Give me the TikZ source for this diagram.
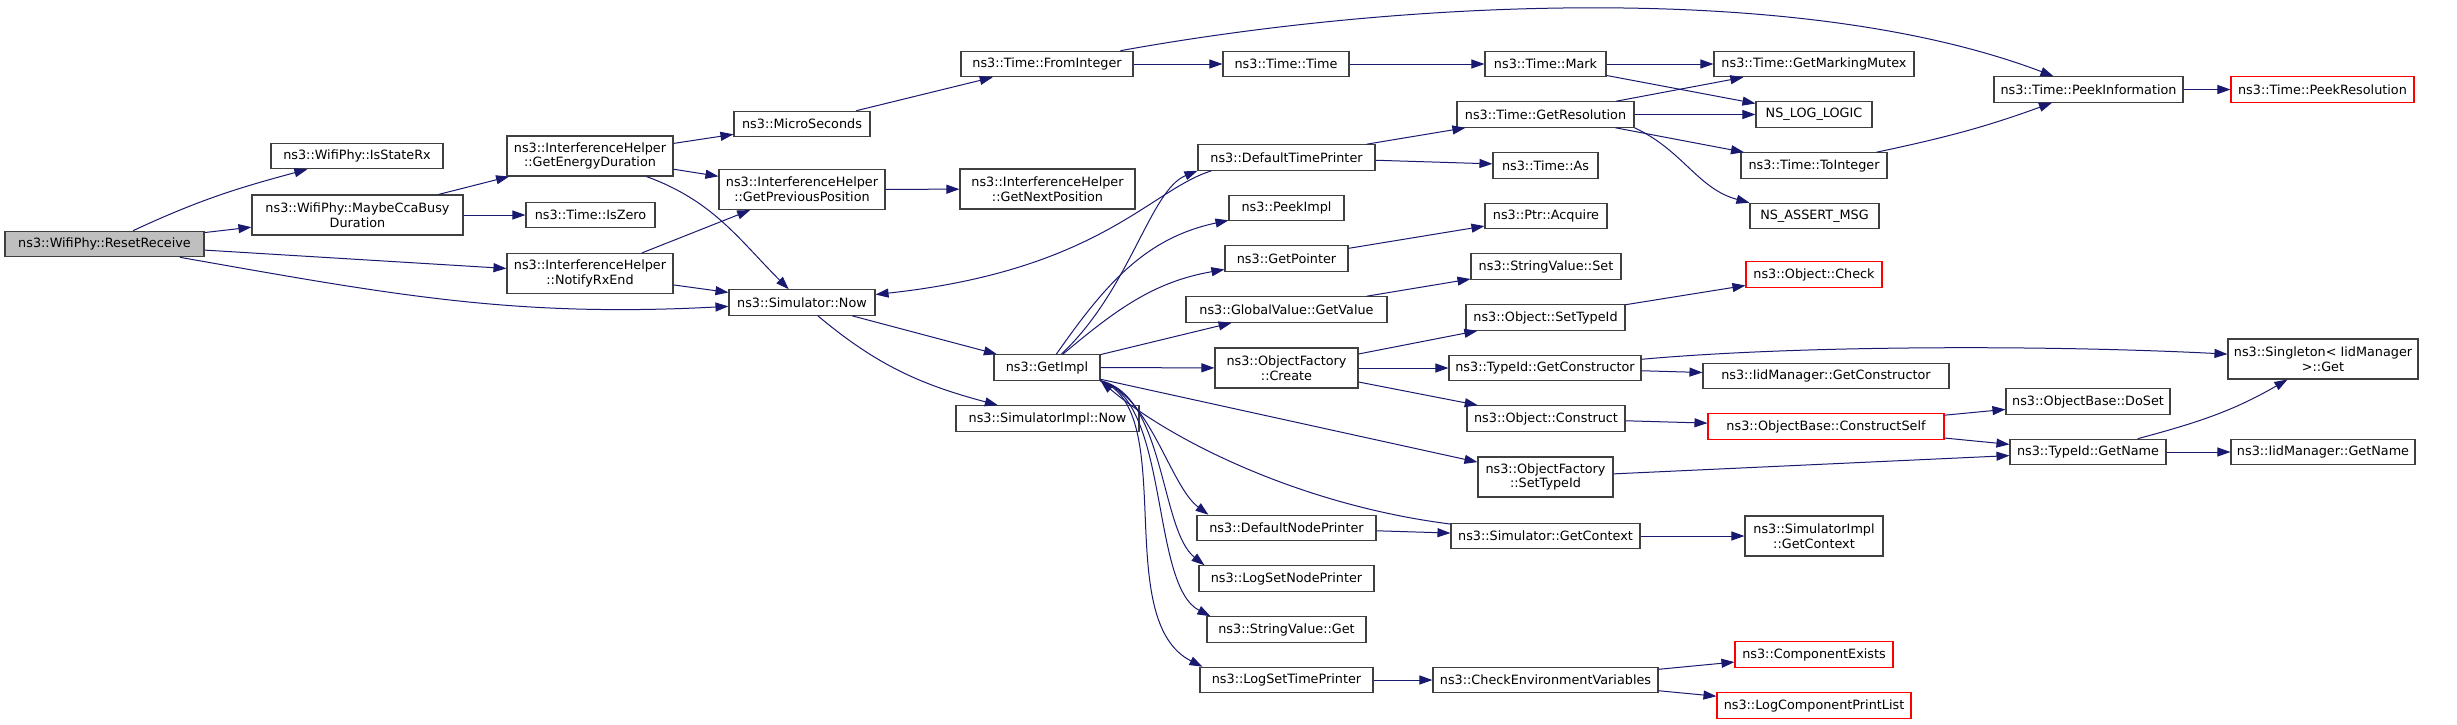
\documentclass[tikz,border=0pt]{standalone}
\usepackage{fontspec}
\setmainfont{DejaVu Sans}
\usetikzlibrary{arrows.meta}
\definecolor{edgeblue}{RGB}{25,25,112}
\definecolor{boxgrey}{RGB}{64,64,64}
\definecolor{rootfill}{RGB}{191,191,191}
\begin{document}
\begin{tikzpicture}[x=1pt, y=1pt,
	fn/.style = {draw=boxgrey, line width=1.1pt, fill=white, minimum height=25.5, inner sep=2pt, align=center, font=\fontsize{12.8}{14.7}\selectfont},
	two/.style = {minimum height=40},
	root/.style = {fill=rootfill},
	trunc/.style = {draw=red},
	call/.style = {draw=edgeblue, line width=1pt, -{Triangle[length=13pt, width=9pt]}}]
	\fill[white] (0,0) rectangle (2457,-724);
	\useasboundingbox (0,0) rectangle (2457,-724);

	\node[fn, root, minimum width=199] (reset) at (104.5,-244) {ns3::WifiPhy::ResetReceive};
	\node[fn, minimum width=172] (isstaterx) at (357,-156) {ns3::WifiPhy::IsStateRx};
	\node[fn, two, minimum width=211] (maybecca) at (357.5,-215) {ns3::WifiPhy::MaybeCcaBusy\\Duration};
	\node[fn, two, minimum width=166] (energy) at (590,-156) {ns3::InterferenceHelper\\::GetEnergyDuration};
	\node[fn, minimum width=129] (iszero) at (590.5,-215) {ns3::Time::IsZero};
	\node[fn, two, minimum width=166] (notify) at (590,-273.5) {ns3::InterferenceHelper\\::NotifyRxEnd};
	\node[fn, minimum width=136] (micro) at (802,-124) {ns3::MicroSeconds};
	\node[fn, two, minimum width=166] (prevpos) at (802,-189.5) {ns3::InterferenceHelper\\::GetPreviousPosition};
	\node[fn, minimum width=146] (simnow) at (802,-302.5) {ns3::Simulator::Now};
	\node[fn, two, minimum width=175] (nextpos) at (1047.5,-189) {ns3::InterferenceHelper\\::GetNextPosition};
	\node[fn, minimum width=172] (fromint) at (1047,-64) {ns3::Time::FromInteger};
	\node[fn, minimum width=106] (getimpl) at (1047,-367.5) {ns3::GetImpl};
	\node[fn, minimum width=183] (implnow) at (1047.5,-418.5) {ns3::SimulatorImpl::Now};

	\node[fn, minimum width=126] (timetime) at (1286,-64) {ns3::Time::Time};
	\node[fn, minimum width=177] (deftime) at (1286.5,-157.5) {ns3::DefaultTimePrinter};
	\node[fn, minimum width=115] (peekimpl) at (1286.5,-208) {ns3::PeekImpl};
	\node[fn, minimum width=123] (getpointer) at (1286.5,-258.5) {ns3::GetPointer};
	\node[fn, minimum width=201] (getvalue) at (1286.5,-309.5) {ns3::GlobalValue::GetValue};
	\node[fn, two, minimum width=143] (create) at (1286.5,-368) {ns3::ObjectFactory\\::Create};
	\node[fn, minimum width=179] (defnode) at (1286.5,-528) {ns3::DefaultNodePrinter};
	\node[fn, minimum width=175] (lognode) at (1286.5,-578.5) {ns3::LogSetNodePrinter};
	\node[fn, minimum width=159] (strget) at (1286.5,-629.5) {ns3::StringValue::Get};
	\node[fn, minimum width=173] (logtime) at (1286.5,-680) {ns3::LogSetTimePrinter};

	\node[fn, minimum width=121] (mark) at (1545.5,-64) {ns3::Time::Mark};
	\node[fn, minimum width=177] (getres) at (1545.5,-114.5) {ns3::Time::GetResolution};
	\node[fn, minimum width=105] (timeas) at (1545.5,-165.5) {ns3::Time::As};
	\node[fn, minimum width=122] (acquire) at (1546,-216) {ns3::Ptr::Acquire};
	\node[fn, minimum width=150] (strset) at (1546,-266.5) {ns3::StringValue::Set};
	\node[fn, minimum width=159] (objsettype) at (1545.5,-317.5) {ns3::Object::SetTypeId};
	\node[fn, minimum width=192] (getctor) at (1545,-368) {ns3::TypeId::GetConstructor};
	\node[fn, minimum width=158] (construct) at (1546,-418.5) {ns3::Object::Construct};
	\node[fn, two, minimum width=135] (ofsettype) at (1545.5,-477) {ns3::ObjectFactory\\::SetTypeId};
	\node[fn, minimum width=189] (getctx) at (1545.5,-536) {ns3::Simulator::GetContext};
	\node[fn, minimum width=225] (checkenv) at (1545.5,-680) {ns3::CheckEnvironmentVariables};

	\node[fn, minimum width=200] (mutex) at (1814,-64) {ns3::Time::GetMarkingMutex};
	\node[fn, minimum width=116] (loglogic) at (1814,-114.5) {NS\_LOG\_LOGIC};
	\node[fn, minimum width=146] (tointeger) at (1814,-165.5) {ns3::Time::ToInteger};
	\node[fn, minimum width=129] (assertmsg) at (1814.5,-216) {NS\_ASSERT\_MSG};
	\node[fn, trunc, minimum width=136] (check) at (1814,-274.5) {ns3::Object::Check};
	\node[fn, minimum width=246] (iidctor) at (1826,-376) {ns3::IidManager::GetConstructor};
	\node[fn, trunc, minimum width=236] (cself) at (1826,-426.5) {ns3::ObjectBase::ConstructSelf};
	\node[fn, two, minimum width=138] (implctx) at (1814,-536) {ns3::SimulatorImpl\\::GetContext};
	\node[fn, trunc, minimum width=158] (compexists) at (1814,-654.5) {ns3::ComponentExists};
	\node[fn, trunc, minimum width=194] (printlist) at (1814,-705.5) {ns3::LogComponentPrintList};

	\node[fn, minimum width=189] (peekinfo) at (2088.5,-89.5) {ns3::Time::PeekInformation};
	\node[fn, minimum width=164] (doset) at (2088,-401.5) {ns3::ObjectBase::DoSet};
	\node[fn, minimum width=156] (getname) at (2088,-452) {ns3::TypeId::GetName};
	\node[fn, trunc, minimum width=183] (peekres) at (2322.5,-89.5) {ns3::Time::PeekResolution};
	\node[fn, two, minimum width=190] (singleton) at (2323,-359) {ns3::Singleton< IidManager\\>::Get};
	\node[fn, minimum width=184] (iidname) at (2323,-452) {ns3::IidManager::GetName};

	\draw[call] (reset) to[out=25,in=195] (isstaterx);
	\draw[call] (reset) -- (maybecca);
	\draw[call] (reset) -- (notify);
	\draw[call] (reset) to[out=-10,in=183] (simnow);
	\draw[call] (maybecca) -- (energy);
	\draw[call] (maybecca) -- (iszero);
	\draw[call] (energy) -- (micro);
	\draw[call] (energy) -- (prevpos);
	\draw[call] (energy) to[out=-20,in=135] (simnow);
	\draw[call] (notify) -- (prevpos);
	\draw[call] (notify) -- (simnow);
	\draw[call] (prevpos) -- (nextpos);
	\draw[call] (micro) -- (fromint);
	\draw[call] (fromint) -- (timetime);
	\draw[call] (fromint) .. controls (1400,0) and (1800,20) .. (peekinfo);
	\draw[call] (timetime) -- (mark);
	\draw[call] (mark) -- (mutex);
	\draw[call] (mark) -- (loglogic);
	\draw[call] (getres) -- (mutex);
	\draw[call] (getres) -- (loglogic);
	\draw[call] (getres) -- (tointeger);
	\draw[call] (getres.south east) to[out=-25,in=165] (assertmsg.north west);
	\draw[call] (deftime) -- (getres);
	\draw[call] (deftime) -- (timeas);
	\draw[call] (tointeger) to[out=12,in=200] (peekinfo);
	\draw[call] (peekinfo) -- (peekres);
	\draw[call] (simnow) -- (getimpl);
	\draw[call] (simnow) to[out=-40,in=165] (implnow);
	\draw[call] ([xshift=14pt]deftime.south west) .. controls (1150,-190) and (1100,-270) .. (simnow);
	\draw[call] (getimpl) .. controls (1130,-290) and (1150,-190) .. (deftime.south west);
	\draw[call] (getimpl) to[out=55,in=192] (peekimpl);
	\draw[call] (getimpl) to[out=40,in=190] (getpointer);
	\draw[call] (getimpl) -- (getvalue);
	\draw[call] (getimpl) -- (create);
	\draw[call] (getimpl) -- (ofsettype);
	\draw[call] (getimpl.south east) .. controls (1150,-395) and (1170,-486) .. ([xshift=12pt]defnode.north west);
	\draw[call] (getimpl.south east) .. controls (1165,-395) and (1160,-530) .. ([xshift=6pt]lognode.north west);
	\draw[call] (getimpl.south east) .. controls (1170,-400) and (1150,-585) .. ([xshift=4pt]strget.north west);
	\draw[call] (getimpl.south east) .. controls (1180,-410) and (1110,-620) .. ([xshift=3pt]logtime.north west);
	\draw[call] (getctx) .. controls (1300,-505) and (1170,-440) .. (getimpl.south east);
	\draw[call] (getpointer) -- (acquire);
	\draw[call] (getvalue) -- (strset);
	\draw[call] (create) -- (objsettype);
	\draw[call] (create) -- (getctor);
	\draw[call] (create) -- (construct);
	\draw[call] (objsettype) -- (check);
	\draw[call] (getctor) .. controls (1800,-345) and (2050,-345) .. (singleton);
	\draw[call] (getctor) -- (iidctor);
	\draw[call] (construct) -- (cself);
	\draw[call] (ofsettype) -- (getname);
	\draw[call] (defnode) -- (getctx);
	\draw[call] (getctx) -- (implctx);
	\draw[call] (logtime) -- (checkenv);
	\draw[call] (checkenv) -- (compexists);
	\draw[call] (checkenv) -- (printlist);
	\draw[call] (cself) -- (doset);
	\draw[call] (cself) -- (getname);
	\draw[call] (getname) to[out=15,in=210] (singleton);
	\draw[call] (getname) -- (iidname);
\end{tikzpicture}
\end{document}
